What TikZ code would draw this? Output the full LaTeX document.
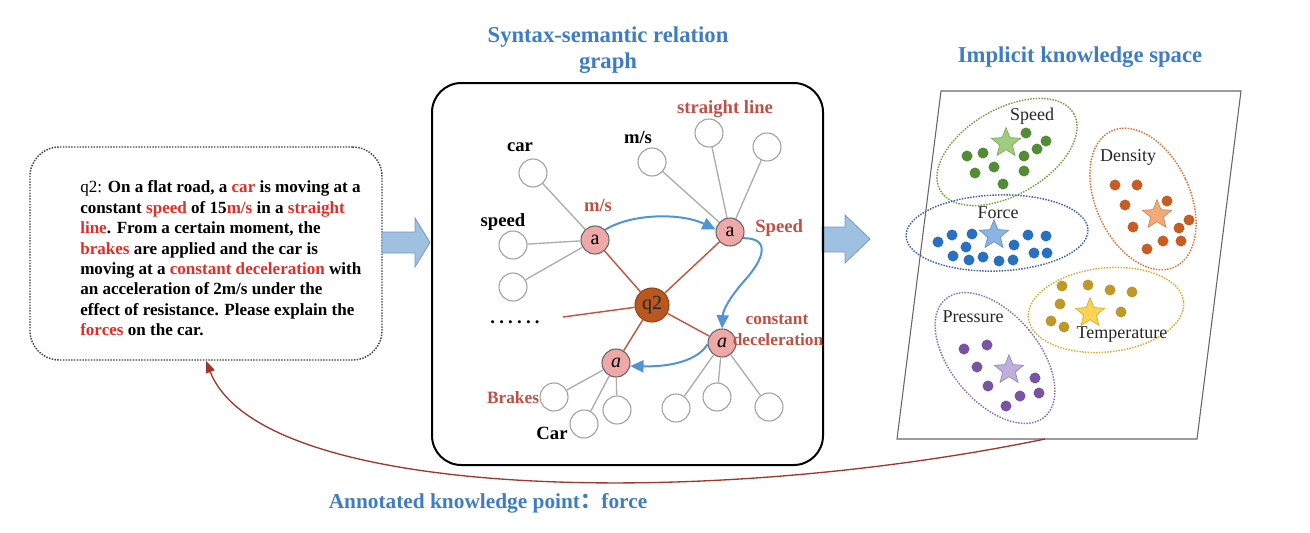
\documentclass[tikz,border=0pt]{standalone}
\usepackage{fontspec}
\setmainfont{Liberation Serif}
\newfontfamily\cjk{Noto Sans CJK SC}
\usetikzlibrary{shapes.geometric,arrows.meta}
\definecolor{qred}{RGB}{228,45,38}
\definecolor{lblred}{RGB}{192,80,70}
\definecolor{ttlblue}{RGB}{62,125,195}
\definecolor{pinkc}{RGB}{238,168,168}
\definecolor{q2c}{RGB}{186,86,32}
\definecolor{edgered}{RGB}{196,86,64}
\definecolor{edgegray}{RGB}{172,172,172}
\definecolor{arrblue}{RGB}{78,148,215}
\definecolor{blockfill}{RGB}{160,192,226}
\definecolor{blockdraw}{RGB}{115,152,196}
\definecolor{backred}{RGB}{160,55,45}
\definecolor{gdot}{RGB}{82,140,52}
\definecolor{bdot}{RGB}{40,112,192}
\definecolor{odot}{RGB}{200,92,34}
\definecolor{ydot}{RGB}{192,152,42}
\definecolor{pdot}{RGB}{120,84,162}
\definecolor{gell}{RGB}{112,160,70}
\definecolor{bell}{RGB}{62,92,182}
\definecolor{oell}{RGB}{222,112,52}
\definecolor{yell}{RGB}{212,172,52}
\definecolor{pell}{RGB}{132,112,182}
\newcommand\hlred[1]{\textcolor{qred}{#1}}
\tikzset{
  leaf/.style={circle, draw=gray!75, line width=0.8pt, minimum size=21pt, inner sep=0pt, fill=white},
  anode/.style={circle, draw=gray!80!black, line width=0.8pt, fill=pinkc, minimum size=21pt, inner sep=0pt, font=\fontsize{15}{15}\selectfont},
  qnode/.style={circle, draw=q2c!80!black, line width=0.8pt, fill=q2c, minimum size=25.5pt, inner sep=0pt, font=\fontsize{15}{15}\selectfont, text=black!85},
  gedge/.style={draw=edgegray, line width=1pt},
  redge/.style={draw=edgered, line width=1.1pt},
  blarrow/.style={draw=arrblue, line width=1.5pt, -{Triangle[length=10pt,width=9pt]}},
  glabel/.style={font=\bfseries\fontsize{14}{14}\selectfont, inner sep=0pt},
  rlabel/.style={glabel, text=lblred},
  klabel/.style={font=\fontsize{13.5}{13.5}\selectfont, inner sep=0pt, text=black!85},
  title/.style={font=\bfseries\fontsize{17}{20}\selectfont, text=ttlblue, align=center, inner sep=0pt},
  blockarrow/.style={fill=blockfill, draw=blockdraw, line width=0.6pt},
  kell/.style={densely dotted, line width=1.1pt},
  kstar/.style={star, star points=5, star point ratio=2.3, minimum size=23pt, inner sep=0pt, line width=0.5pt}
}
\begin{document}
\begin{tikzpicture}[x=0.75pt,y=-0.75pt]
\useasboundingbox (0,0) rectangle (1310,532);

% ---------- left question box ----------
\node (qbox) [draw=black!75, densely dotted, line width=1.1pt, rounded corners=22pt,
  minimum width=264pt, minimum height=159.75pt] at (206,253.5) {};
\node (qtext) [anchor=west, align=left, inner sep=0pt,
  font=\bfseries\fontsize{12.8}{15.3}\selectfont] at (80,258.5)
{{\mdseries q2:} On a flat road, a \hlred{car} is moving at a\\
constant \hlred{speed} of 15\hlred{m/s} in a \hlred{straight}\\
\hlred{line}. From a certain moment, the\\
\hlred{brakes} are applied and the car is\\
moving at a \hlred{constant deceleration} with\\
an acceleration of 2m/s under the\\
effect of resistance. Please explain the\\
\hlred{forces} on the car.};

% ---------- block arrows ----------
\fill[blockarrow] (382,232) -- (415,232) -- (415,218) -- (430,242.5) -- (415,267) -- (415,253) -- (382,253) -- cycle;
\fill[blockarrow] (822,227) -- (845,227) -- (845,215) -- (870,239) -- (845,263) -- (845,252) -- (822,252) -- cycle;

% ---------- middle graph ----------
\node (gtitle) [title] at (608,50) {Syntax-semantic relation\\graph};
\node (gbox) [draw=black, line width=1.5pt, rounded corners=22pt,
  minimum width=293.25pt, minimum height=286.5pt] at (627.5,274) {};

\node (a1) [anode] at (595,240) {a};
\node (a2) [anode] at (730,232) {a};
\node (q2) [qnode] at (652,305) {q2};
\node (a3) [anode] at (722,343) {\itshape a};
\node (a4) [anode] at (616,363) {\itshape a};

\node (lcar) [leaf] at (533,173) {};
\node (lspeed) [leaf] at (513,245) {};
\node (lthree) [leaf] at (513,287) {};
\node (lms) [leaf] at (652,162) {};
\node (lsla) [leaf] at (709,133) {};
\node (lslb) [leaf] at (767,147) {};
\node (ba) [leaf] at (554,397) {};
\node (bb) [leaf] at (584,424) {};
\node (bc) [leaf] at (617,410) {};
\node (ca) [leaf] at (676,408) {};
\node (cb) [leaf] at (717,397) {};
\node (cc) [leaf] at (769,407) {};
\coordinate (dotsend) at (563,317);

\draw[gedge] (a1) -- (lcar);
\draw[gedge] (a1) -- (lspeed);
\draw[gedge] (a1) -- (lthree);
\draw[gedge] (a2) -- (lms);
\draw[gedge] (a2) -- (lsla);
\draw[gedge] (a2) -- (lslb);
\draw[gedge] (a4) -- (ba);
\draw[gedge] (a4) -- (bb);
\draw[gedge] (a4) -- (bc);
\draw[gedge] (a3) -- (ca);
\draw[gedge] (a3) -- (cb);
\draw[gedge] (a3) -- (cc);

\draw[redge] (q2) -- (a1);
\draw[redge] (q2) -- (a2);
\draw[redge] (q2) -- (a3);
\draw[redge] (q2) -- (a4);
\draw[redge] (q2) -- (dotsend);

\draw[blarrow] (a1.45) .. controls (632,213) and (682,213) .. (a2.170);
\draw[blarrow] (a2.-25) .. controls (772,238) and (763,260) .. (745,280) .. controls (730,297) and (723,310) .. (a3.north);
\draw[blarrow] (a3.185) .. controls (698,360) and (672,367) .. (a4.-12);

\node (tcar) [glabel] at (520,147) {car};
\node (tspeed) [glabel] at (503,222) {speed};
\node (tms) [glabel] at (638,137) {m/s};
\node (tsl) [rlabel] at (725,109) {straight line};
\node (tmsr) [rlabel] at (598,205) {m/s};
\node (tSpeed) [rlabel, anchor=west] at (755,228) {Speed};
\node (tconst) [rlabel, font=\bfseries\fontsize{13}{13}\selectfont] at (777,320) {constant};
\node (tdecel) [rlabel, font=\bfseries\fontsize{13}{13}\selectfont] at (778,340) {deceleration};
\node (tdots) [glabel] at (515,322) {.\kern3.2pt.\kern3.2pt.\kern3.2pt.\kern3.2pt.\kern3.2pt.};
\node (tbrakes) [rlabel, font=\bfseries\fontsize{13}{13}\selectfont] at (513,398) {Brakes};
\node (tCar) [glabel] at (552,433) {Car};

% ---------- right knowledge space ----------
\node (ktitle) [title] at (1080,57) {Implicit knowledge space};
\draw[draw=black!60, line width=0.8pt] (941,91) -- (1241,91) -- (1197,439) -- (897,439) -- cycle;
\coordinate (spaceb) at (1045,439);

\draw[kell, draw=gell] (1007,152) circle [x radius=77, y radius=43, rotate=30];
\draw[kell, draw=oell] (1143,199) circle [x radius=47, y radius=75, rotate=25];
\draw[kell, draw=bell] (997,233) circle [x radius=91, y radius=38, rotate=2];
\draw[kell, draw=yell] (1106,310) circle [x radius=78, y radius=42, rotate=6];
\draw[kell, draw=pell] (995,358) circle [x radius=44, y radius=77, rotate=40];

\foreach \p in {(1026,133),(1046,141),(1037,149),(1024,156),(967,156),(983,153),(994,167),(975,173),(1024,171),(1003,184)}
  \fill[gdot] \p circle (5.5);
\foreach \p in {(938,242),(952,235),(972,234),(966,247),(953,256),(969,260),(983,257),(999,261),(1013,260),(1014,245),(1028,235),(1046,236),(1034,253),(1047,253)}
  \fill[bdot] \p circle (5.5);
\foreach \p in {(1115,185),(1137,185),(1125,205),(1167,201),(1133,227),(1189,220),(1179,228),(1163,241),(1181,241),(1147,249)}
  \fill[odot] \p circle (5.5);
\foreach \p in {(1062,286),(1088,285),(1110,290),(1132,292),(1060,304),(1121,312),(1051,321),(1064,327)}
  \fill[ydot] \p circle (5.5);
\foreach \p in {(964,349),(987,345),(977,367),(988,386),(1035,378),(1039,393),(1020,396),(1006,406)}
  \fill[pdot] \p circle (5.5);

\node (sspeed) [kstar, fill={rgb,255:red,160;green,205;blue,125}, draw={rgb,255:red,120;green,170;blue,90}] at (1006,143) {};
\node (sforce) [kstar, fill={rgb,255:red,140;green,180;blue,225}, draw={rgb,255:red,100;green,140;blue,200}] at (994,235) {};
\node (sdens) [kstar, fill={rgb,255:red,242;green,170;blue,120}, draw={rgb,255:red,215;green,130;blue,80}] at (1157,215) {};
\node (stemp) [kstar, fill={rgb,255:red,250;green,212;blue,80}, draw={rgb,255:red,215;green,170;blue,50}] at (1090,313) {};
\node (spres) [kstar, fill={rgb,255:red,190;green,175;blue,220}, draw={rgb,255:red,150;green,135;blue,190}] at (1009,370) {};

\node (kspeed) [klabel] at (1032,116) {Speed};
\node (kdens) [klabel] at (1128,157) {Density};
\node (kforce) [klabel] at (998,213) {Force};
\node (kpres) [klabel] at (973,317) {Pressure};
\node (ktemp) [klabel] at (1122,335) {Temperature};

% ---------- feedback arrow ----------
\draw[draw=backred, line width=1pt, -{Triangle[length=9pt,width=7pt]}]
  (spaceb) .. controls (700,510) and (260,500) .. (qbox.south);
\node (anno) [font=\bfseries\fontsize{16}{16}\selectfont, text=ttlblue, inner sep=0pt] at (488,503)
  {Annotated knowledge point{\cjk ：}force};
\end{tikzpicture}
\end{document}
